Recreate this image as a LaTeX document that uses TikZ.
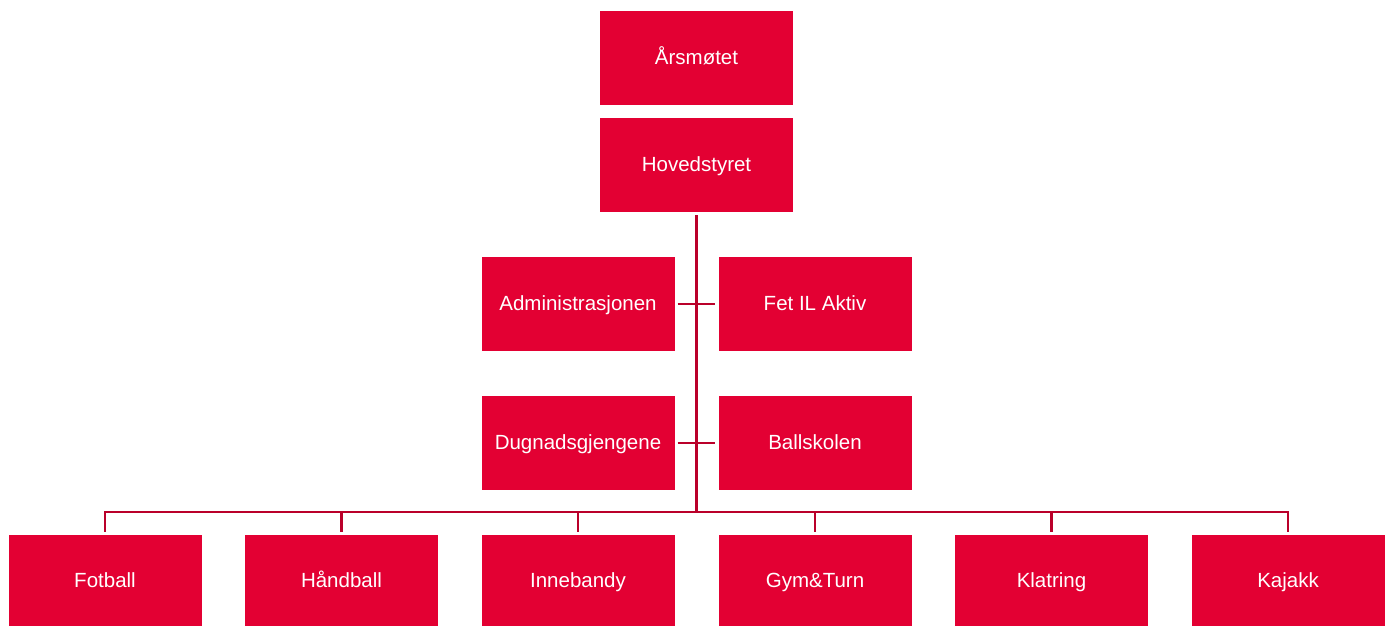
\documentclass[tikz,border=0pt]{standalone}
\usepackage{fontspec}
\setmainfont{Liberation Sans}
\definecolor{boxred}{RGB}{227,0,51}
\definecolor{linered}{RGB}{186,0,42}
\begin{document}
\begin{tikzpicture}[x=1pt,y=-1pt,
  orgbox/.style={fill=boxred,draw=none,text=white,minimum width=193pt,minimum height=94pt,inner sep=0pt,text height=15pt,text depth=1.6pt,font=\fontsize{20.5}{24}\selectfont,anchor=center},
  lowbox/.style={orgbox,minimum height=91pt},
  conn/.style={draw=linered,line width=2.8pt}]
\useasboundingbox (0,0) rectangle (1392,626);
\node[orgbox] (aars) at (696.5,58) {Årsmøtet};
\node[orgbox] (hoved) at (696.5,165) {Hovedstyret};
\node[orgbox] (admin) at (578,304) {Administrasjonen};
\node[orgbox] (fet) at (815,304) {Fet IL Aktiv};
\node[orgbox] (dugnad) at (578,443) {Dugnadsgjengene};
\node[orgbox] (ball) at (815,443) {Ballskolen};
\node[lowbox] (fot) at (105,580.5) {Fotball};
\node[lowbox] (hand) at (341.5,580.5) {Håndball};
\node[lowbox] (inne) at (578,580.5) {Innebandy};
\node[lowbox] (gym) at (815,580.5) {Gym\&Turn};
\node[lowbox] (klat) at (1051.5,580.5) {Klatring};
\node[lowbox] (kaj) at (1288,580.5) {Kajakk};
\coordinate (bus) at (696.5,512);
\coordinate (busL) at (105,512);
\coordinate (busR) at (1288,512);
\draw[conn,shorten <=3pt] (hoved.south) -- (bus);
\draw[conn,line cap=rect] (busL) -- (busR);
\draw[conn,shorten <=3pt,shorten >=3pt] (admin.east) -- (fet.west);
\draw[conn,shorten <=3pt,shorten >=3pt] (dugnad.east) -- (ball.west);
\foreach \n in {fot,hand,inne,gym,klat,kaj}{
  \draw[conn,shorten >=3pt] (\n.north |- bus) -- (\n.north);
}
\end{tikzpicture}
\end{document}
